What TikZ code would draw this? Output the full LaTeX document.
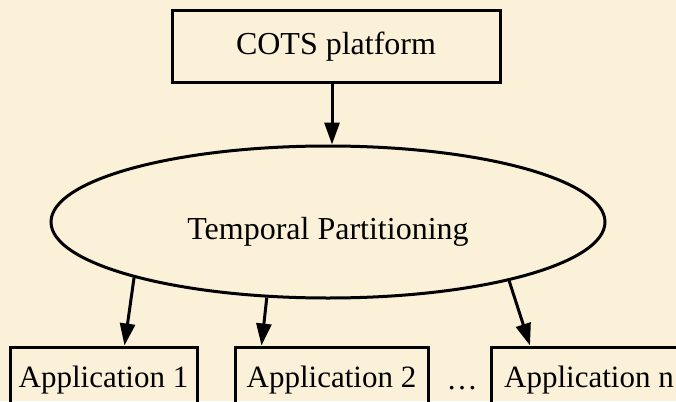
\documentclass[tikz,border=0pt]{standalone}
\usepackage{fontspec}
\setmainfont{Liberation Serif}
\usetikzlibrary{shapes.geometric,arrows.meta}
\definecolor{parchment}{RGB}{251,241,216}
\begin{document}
\begin{tikzpicture}[x=1pt,y=-1pt,
  font=\fontsize{31}{36}\selectfont,
  box/.style={draw=black,line width=3pt,rectangle,inner sep=0pt},
  oval/.style={draw=black,line width=3pt,ellipse,inner sep=0pt,
    minimum width=554pt,minimum height=152pt},
  arr/.style={line width=3pt,-{Triangle[length=22pt,width=15pt]}}]
  % canvas
  \fill[parchment] (0,0) rectangle (676,401);
  \useasboundingbox (0,0) rectangle (676,401);
  \clip (0,0) rectangle (676,401);

  % top platform box
  \node[box,minimum width=328pt,minimum height=72pt,
        font=\fontsize{32}{36}\selectfont] (cots) at (336,47) {COTS platform};

  % partitioning layer
  \node[oval] (tp) at (328,222) {};
  \node[anchor=base,font=\fontsize{32}{36}\selectfont] (tplabel) at (328,239) {Temporal Partitioning};

  % applications
  \node[box,minimum width=187pt,minimum height=66pt] (a1) at (103.5,380) {Application 1};
  \node[box,minimum width=193pt,minimum height=66pt] (a2) at (331.5,380) {Application 2};
  \node[box,minimum width=196pt,minimum height=66pt] (an) at (589,380) {Application n};
  \node[anchor=base] (dots) at (462,389) {\ldots};

  % connectors
  \draw[arr] ([xshift=-4pt]cots.south) -- ([xshift=-4pt]cots.south |- tp.north);
  \draw[arr] (tp.196) -- ([xshift=21pt]a1.north);
  \draw[arr] (tp.231) -- ([xshift=-70pt]a2.north);
  \draw[arr] (tp.342) -- ([xshift=-59pt]an.north);
\end{tikzpicture}
\end{document}
